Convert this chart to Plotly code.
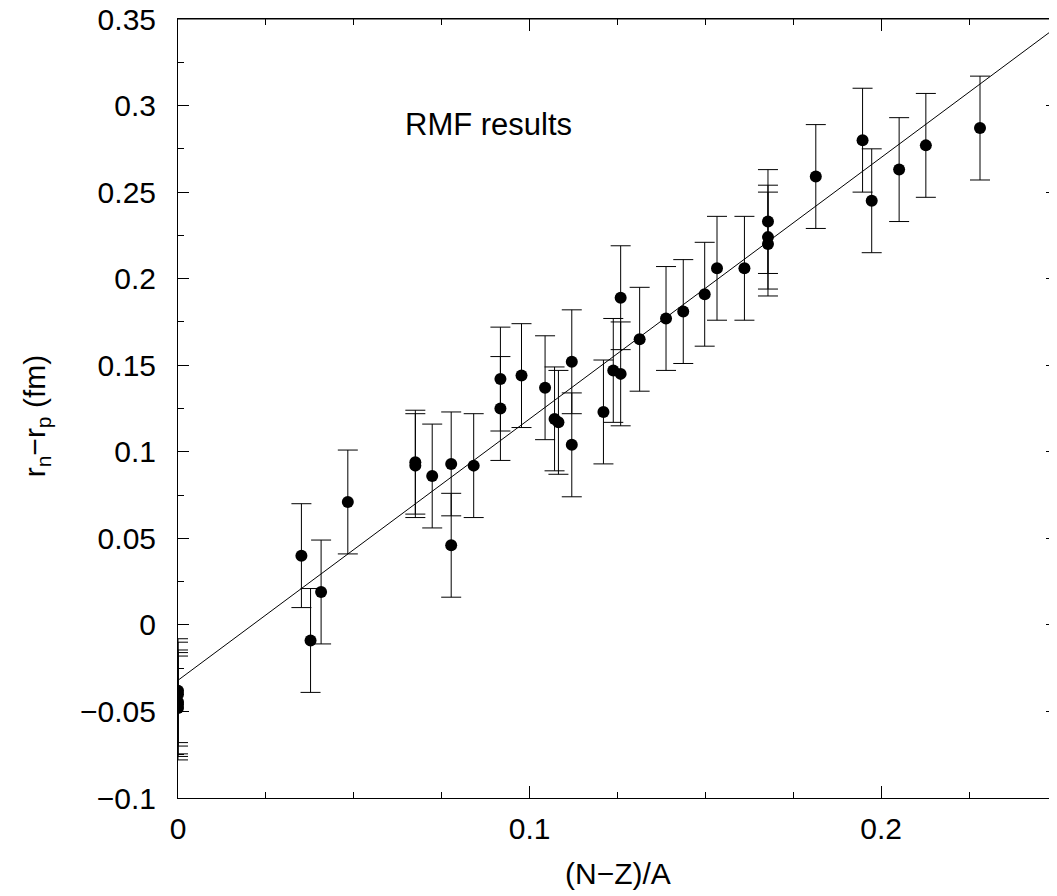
import plotly.graph_objects as go

# RMF data points: (N-Z)/A and r_n - r_p (fm)
asym = [0, 0, 0, 0, 0,
        0.0351, 0.0377, 0.0407, 0.0483, 0.0675, 0.0675, 0.0723, 0.0777, 0.0777,
        0.0841, 0.0917, 0.0917, 0.0977, 0.1044, 0.1071, 0.1082, 0.1120, 0.1120,
        0.1210, 0.1238, 0.1259, 0.1259, 0.1313, 0.1388, 0.1437, 0.1498, 0.1533,
        0.1611, 0.1678, 0.1678, 0.1678, 0.1814, 0.1947, 0.1973, 0.2051, 0.2127,
        0.2281]
skin = [-0.038, -0.040, -0.0445, -0.046, -0.048,
        0.040, -0.009, 0.019, 0.071, 0.094, 0.092, 0.086, 0.093, 0.046,
        0.092, 0.142, 0.125, 0.144, 0.137, 0.119, 0.117, 0.152, 0.104,
        0.123, 0.147, 0.189, 0.145, 0.165, 0.177, 0.181, 0.191, 0.206,
        0.206, 0.233, 0.224, 0.220, 0.259, 0.280, 0.245, 0.263, 0.277,
        0.287]
err = [0.03] * len(asym)

# linear fit line
fit_x = [0.0, 0.25]
fit_y = [-0.032, 0.3455]

x_ticks = [0, 0.1, 0.2]
x_labels = ["0", "0.1", "0.2"]

font_family = "Liberation Sans, Arial, sans-serif"

fig = go.Figure()
fig.add_trace(go.Scatter(x=fit_x, y=fit_y, mode="lines",
                         line=dict(color="black", width=1), showlegend=False,
                         hoverinfo="skip"))
fig.add_trace(go.Scatter(
    x=asym, y=skin, mode="markers",
    marker=dict(color="black", size=12),
    error_y=dict(type="data", array=err, visible=True, color="black",
                 thickness=1, width=10),
    showlegend=False))

axis_common = dict(
    showgrid=False, zeroline=False, showline=True, linecolor="black",
    linewidth=1, mirror="allticks", ticks="inside", tickcolor="black",
    ticklabeloverflow="allow", automargin=False,
    tickfont=dict(family=font_family, size=30, color="black"),
)

fig.update_xaxes(range=[0, 0.25], tickmode="array", tickvals=x_ticks,
                 ticktext=x_labels, ticklen=12, ticklabelstandoff=4,
                 minor=dict(dtick=0.025, tick0=0, ticks="inside", ticklen=6,
                            tickcolor="black", showgrid=False),
                 **axis_common)
fig.update_yaxes(range=[-0.1, 0.35], dtick=0.05, tick0=0, ticklen=11,
                 ticklabelstandoff=15,
                 minor=dict(dtick=0.025, tick0=0, ticks="inside", ticklen=6,
                            tickcolor="black", showgrid=False),
                 **axis_common)

# top frame line
fig.add_shape(type="line", xref="paper", yref="paper", x0=0, x1=1, y0=1, y1=1,
              line=dict(color="black", width=1))

fig.add_annotation(text="(N\u2212Z)/A", xref="paper", yref="paper",
                   x=0.5, y=-0.0963, xanchor="center", yanchor="middle",
                   showarrow=False,
                   font=dict(family=font_family, size=30, color="black"))
fig.add_annotation(text="r<sub>n</sub>\u2212r<sub>p</sub> (fm)", xref="paper",
                   yref="paper", x=-0.1615, y=0.49, xanchor="center",
                   yanchor="middle", textangle=-90, showarrow=False,
                   font=dict(family=font_family, size=30, color="black"))
fig.add_annotation(text="RMF results", xref="x", yref="y",
                   x=0.0882, y=0.2893, xanchor="center", yanchor="middle",
                   showarrow=False,
                   font=dict(family=font_family, size=31, color="black"))

# page body has an 8px default margin; size the figure to fit the window
fig.update_layout(width=1049, height=888,
                  margin=dict(l=170, r=0, t=11, b=98),
                  plot_bgcolor="white", paper_bgcolor="white")

fig.write_html("out.html")
